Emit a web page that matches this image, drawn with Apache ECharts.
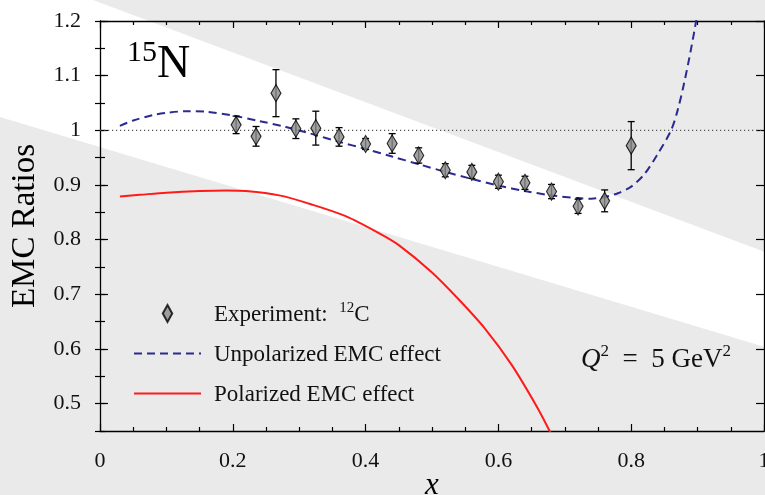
<!DOCTYPE html>
<html>
<head>
<meta charset="utf-8">
<script src="https://cdn.jsdelivr.net/npm/echarts@6/dist/echarts.min.js"></script>
<style>
  html, body { margin: 0; padding: 0; background: #eaeaea; }
  #chart { width: 765px; height: 495px; }
</style>
</head>
<body>
<div id="chart"></div>
<script>
// Experiment: 12C EMC ratios
const expX = [0.205, 0.235, 0.265, 0.295, 0.325, 0.36, 0.40, 0.44, 0.48, 0.52, 0.56, 0.60, 0.64, 0.68, 0.72, 0.76, 0.80]
const expY = [1.010, 0.989, 1.068, 1.003, 1.004, 0.988, 0.975, 0.976, 0.954, 0.927, 0.924, 0.906, 0.904, 0.888, 0.861, 0.871, 0.972]
const expErr = [0.016, 0.018, 0.043, 0.018, 0.031, 0.017, 0.010, 0.018, 0.014, 0.012, 0.012, 0.012, 0.012, 0.013, 0.013, 0.020, 0.044]

// Unpolarized EMC effect curve
const unpolX = [0.03, 0.05, 0.08, 0.10, 0.13, 0.16, 0.20, 0.24, 0.28, 0.32, 0.36, 0.40, 0.44, 0.48, 0.52, 0.56, 0.60, 0.64, 0.68, 0.72, 0.74, 0.76, 0.78, 0.80, 0.82, 0.84, 0.86, 0.87, 0.88, 0.89, 0.90]
const unpolY = [1.008, 1.018, 1.028, 1.032, 1.035, 1.034, 1.027, 1.017, 1.006, 0.993, 0.979, 0.966, 0.952, 0.938, 0.924, 0.911, 0.899, 0.889, 0.881, 0.876, 0.875, 0.878, 0.885, 0.897, 0.920, 0.957, 1.000, 1.037, 1.088, 1.148, 1.215]

// Polarized EMC effect curve
const polX = [0.03, 0.06, 0.10, 0.15, 0.19, 0.22, 0.27, 0.32, 0.37, 0.42, 0.45, 0.50, 0.54, 0.58, 0.62, 0.66, 0.68]
const polY = [0.879, 0.882, 0.886, 0.889, 0.890, 0.889, 0.881, 0.864, 0.843, 0.812, 0.790, 0.740, 0.691, 0.637, 0.571, 0.490, 0.443]

// reference line at ratio 1
const unityX = [0, 1]
const unityY = [1, 1]

// axis ticks
const xTicks = [0, 0.2, 0.4, 0.6, 0.8, 1]
const yTicks = [0.5, 0.6, 0.7, 0.8, 0.9, 1, 1.1, 1.2]

const zip = (a, b) => a.map((v, i) => [v, b[i]])

const serif = '"Liberation Serif", "DejaVu Serif", serif'
const chart = echarts.init(document.getElementById('chart'))

const baseX = {
    type: 'value', min: 0, max: 1, interval: 0.2,
    axisLine: { show: true, onZero: false, lineStyle: { color: '#000', width: 1.3 } },
    axisTick: { show: true, inside: true, length: 7, customValues: xTicks, lineStyle: { color: '#000', width: 1.2 } },
    minorTick: { show: true, splitNumber: 4, length: 4, lineStyle: { color: '#000', width: 1.2 } },
    splitLine: { show: false }
}
const baseY = {
    type: 'value', min: 0.45, max: 1.2,
    axisLine: { show: true, onZero: false, lineStyle: { color: '#000', width: 1.3 } },
    axisTick: { show: true, inside: true, length: 8, customValues: yTicks, lineStyle: { color: '#000', width: 1.2 } },
    axisLabel: { show: false, customValues: yTicks },
    splitLine: { show: false }
}
const minorY = {
    type: 'value', min: 0.45, max: 1.2, interval: 0.05,
    axisLine: { show: false },
    axisTick: { show: true, inside: true, length: 5, lineStyle: { color: '#000', width: 1.2 } },
    axisLabel: { show: false },
    splitLine: { show: false }
}

const option = {
    backgroundColor: '#eaeaea',
    animation: false,
    graphic: [
        {
            type: 'polygon', z: -10, silent: true,
            shape: { points: [[0, 0], [93, 0], [765, 252], [765, 347], [0, 117]] },
            style: { fill: '#ffffff' }
        },
        {
            type: 'text', x: 127, y: 38, z: 10,
            style: {
                text: '{s|15}{n|N}',
                rich: {
                    s: { fontFamily: serif, fontSize: 30, verticalAlign: 'top', lineHeight: 30, fill: '#000' },
                    n: { fontFamily: serif, fontSize: 46, verticalAlign: 'bottom', lineHeight: 50, fill: '#000' }
                }
            }
        },
        {
            type: 'text', x: 581, y: 343, z: 10,
            style: {
                text: '{q|Q}{s|2}{t|  =  5 GeV}{s|2}',
                rich: {
                    q: { fontFamily: serif, fontSize: 27, fontStyle: 'italic', verticalAlign: 'bottom', lineHeight: 30, fill: '#111' },
                    t: { fontFamily: serif, fontSize: 27, verticalAlign: 'bottom', lineHeight: 30, fill: '#111' },
                    s: { fontFamily: serif, fontSize: 17, verticalAlign: 'top', lineHeight: 17, fill: '#111' }
                }
            }
        }
    ],
    grid: { left: 100, right: 1, top: 21, bottom: 64, outerBoundsMode: 'none', containLabel: false },
    legend: {
        orient: 'vertical', left: 133, top: 301, padding: 0,
        itemWidth: 67, itemHeight: 17, itemGap: 17,
        data: [
            { name: 'exp', icon: 'path://M5,0L10,9L5,18L0,9Z' },
            { name: 'unpol', itemStyle: { opacity: 0 } },
            { name: 'pol', itemStyle: { opacity: 0 } }
        ],
        formatter: name => {
            if (name === 'exp') return '{t|Experiment:  }{s|12}{t|C}'
            if (name === 'unpol') return '{t|Unpolarized EMC effect}'
            return '{t|Polarized EMC effect}'
        },
        textStyle: {
            padding: [0, 0, 0, 8],
            rich: {
                t: { fontFamily: serif, fontSize: 23, color: '#111', verticalAlign: 'bottom', lineHeight: 25 },
                s: { fontFamily: serif, fontSize: 15, color: '#111', verticalAlign: 'top', lineHeight: 15 }
            }
        }
    },
    xAxis: [
        Object.assign({}, baseX, {
            position: 'bottom',
            name: 'x', nameLocation: 'middle', nameGap: 39, nameMoveOverlap: false,
            nameTextStyle: { fontFamily: serif, fontStyle: 'italic', fontSize: 31, color: '#000' },
            axisLabel: { show: true, customValues: xTicks, margin: 19, fontFamily: serif, fontSize: 22, color: '#111' }
        }),
        Object.assign({}, baseX, { position: 'top', axisLabel: { show: false } })
    ],
    yAxis: [
        Object.assign({}, baseY, {
            position: 'left',
            name: 'EMC Ratios', nameLocation: 'middle', nameGap: 58, nameMoveOverlap: false,
            nameTextStyle: { fontFamily: serif, fontSize: 33, color: '#000' },
            axisLabel: { show: true, customValues: yTicks, margin: 19, fontFamily: serif, fontSize: 22, color: '#111' }
        }),
        Object.assign({}, minorY, { position: 'left' }),
        Object.assign({}, baseY, { position: 'right' }),
        Object.assign({}, minorY, { position: 'right' })
    ],
    series: [
        {
            name: 'unity', type: 'line', symbol: 'none',
            data: zip(unityX, unityY),
            lineStyle: { color: '#555', width: 1.2, type: [1.2, 2.8] },
            z: 1
        },
        {
            name: 'pol', type: 'line', symbol: 'none', smooth: 0.3,
            data: zip(polX, polY),
            lineStyle: { color: '#ff1a1a', width: 2 },
            itemStyle: { color: '#ff1a1a' },
            z: 2
        },
        {
            name: 'unpol', type: 'line', symbol: 'none', smooth: 0.3,
            data: zip(unpolX, unpolY),
            lineStyle: { color: '#2a2a90', width: 2, type: [8, 5] },
            itemStyle: { color: '#2a2a90' },
            z: 3
        },
        {
            name: 'errbars', type: 'custom',
            data: expX.map((x, i) => [x, expY[i] - expErr[i], expY[i] + expErr[i]]),
            renderItem: (params, api) => {
                const lo = api.coord([api.value(0), api.value(1)])
                const hi = api.coord([api.value(0), api.value(2)])
                const cap = 3.5
                const st = { stroke: '#000', lineWidth: 1.3 }
                return {
                    type: 'group',
                    children: [
                        { type: 'line', shape: { x1: lo[0], y1: lo[1], x2: hi[0], y2: hi[1] }, style: st },
                        { type: 'line', shape: { x1: lo[0] - cap, y1: lo[1], x2: lo[0] + cap, y2: lo[1] }, style: st },
                        { type: 'line', shape: { x1: hi[0] - cap, y1: hi[1], x2: hi[0] + cap, y2: hi[1] }, style: st }
                    ]
                }
            },
            z: 4
        },
        {
            name: 'exp', type: 'scatter', symbol: 'diamond', symbolSize: [10, 17],
            data: zip(expX, expY),
            itemStyle: { color: '#8a8a8a', borderColor: '#000', borderWidth: 1.2 },
            z: 5
        }
    ]
}

chart.setOption(option)
</script>
</body>
</html>
